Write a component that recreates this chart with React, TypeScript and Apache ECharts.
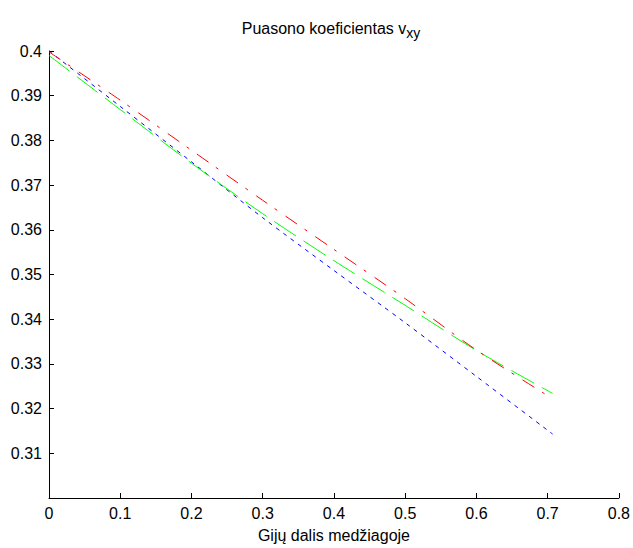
import React, { useEffect, useRef } from "react";
import * as echarts from "echarts";

// Fibre volume fraction (x) and Poisson's ratio v_xy for three models
const fraction = [0, 0.1, 0.2, 0.3, 0.4, 0.5, 0.6, 0.707];
const blueValues = [0.4, 0.3876, 0.3752, 0.3627, 0.3509, 0.3392, 0.3272, 0.3143];
const greenValues = [0.399, 0.3869, 0.3749, 0.3636, 0.3531, 0.3431, 0.333, 0.3234];
const redValues = [0.3998, 0.389, 0.3778, 0.3666, 0.3556, 0.3446, 0.3331, 0.3222];

const xTicks = { min: 0, max: 0.8, step: 0.1 };
const yTicks = { min: 0.3, max: 0.4, step: 0.01 };

const FONT = "Liberation Sans, Arial, sans-serif";

const pairs = (vals: number[]) => fraction.map((x, i) => [x, vals[i]]);

export default function App() {
  const ref = useRef<HTMLDivElement>(null);

  useEffect(() => {
    if (!ref.current) return;
    const chart = echarts.init(ref.current, undefined, { renderer: "svg" });
    const axisCommon = {
      axisLine: { show: true, onZero: false, lineStyle: { color: "#000", width: 1 } },
      axisTick: { show: true, inside: true, length: 5, lineStyle: { color: "#000" } },
      splitLine: { show: false },
      axisLabel: { color: "#000", fontFamily: FONT, fontSize: 16 },
    };
    chart.setOption({
      animation: false,
      backgroundColor: "#fff",
      title: {
        text: "{a|Puasono koeficientas v}{b|xy}",
        left: 326,
        textAlign: "center",
        top: 15,
        textStyle: {
          fontWeight: "normal",
          rich: {
            a: { fontFamily: FONT, fontSize: 16, fontWeight: "normal", color: "#000", lineHeight: 18, verticalAlign: "top" },
            b: { fontFamily: FONT, fontSize: 14, fontWeight: "normal", color: "#000", lineHeight: 16, padding: [8, 0, 0, 0] },
          },
        },
      },
      grid: { left: 49, right: 13, top: 51, bottom: 48, containLabel: false },
      xAxis: {
        type: "value",
        min: xTicks.min,
        max: xTicks.max,
        interval: xTicks.step,
        name: "Gijų dalis medžiagoje",
        nameLocation: "middle",
        nameGap: 29,
        nameTextStyle: { color: "#000", fontFamily: FONT, fontSize: 16 },
        ...axisCommon,
        axisLabel: { ...axisCommon.axisLabel, margin: 7 },
      },
      yAxis: {
        type: "value",
        min: yTicks.min,
        max: yTicks.max,
        interval: yTicks.step,
        ...axisCommon,
        axisLabel: { ...axisCommon.axisLabel, margin: 7, showMinLabel: false },
      },
      series: [
        {
          type: "line",
          data: pairs(blueValues),
          smooth: 0.3,
          showSymbol: false,
          lineStyle: { color: "#0000ff", width: 1, type: [4, 5] },
        },
        {
          type: "line",
          data: pairs(greenValues),
          smooth: 0.3,
          showSymbol: false,
          lineStyle: { color: "#00ff00", width: 1, type: [26, 9] },
        },
        {
          type: "line",
          data: pairs(redValues),
          smooth: 0.3,
          showSymbol: false,
          lineStyle: { color: "#ff0000", width: 1, type: [14, 9, 3, 10] },
        },
      ],
    });
    return () => chart.dispose();
  }, []);

  return (
    <div
      ref={ref}
      style={{ position: "absolute", left: 0, top: 0, width: 633, height: 548 }}
    />
  );
}
